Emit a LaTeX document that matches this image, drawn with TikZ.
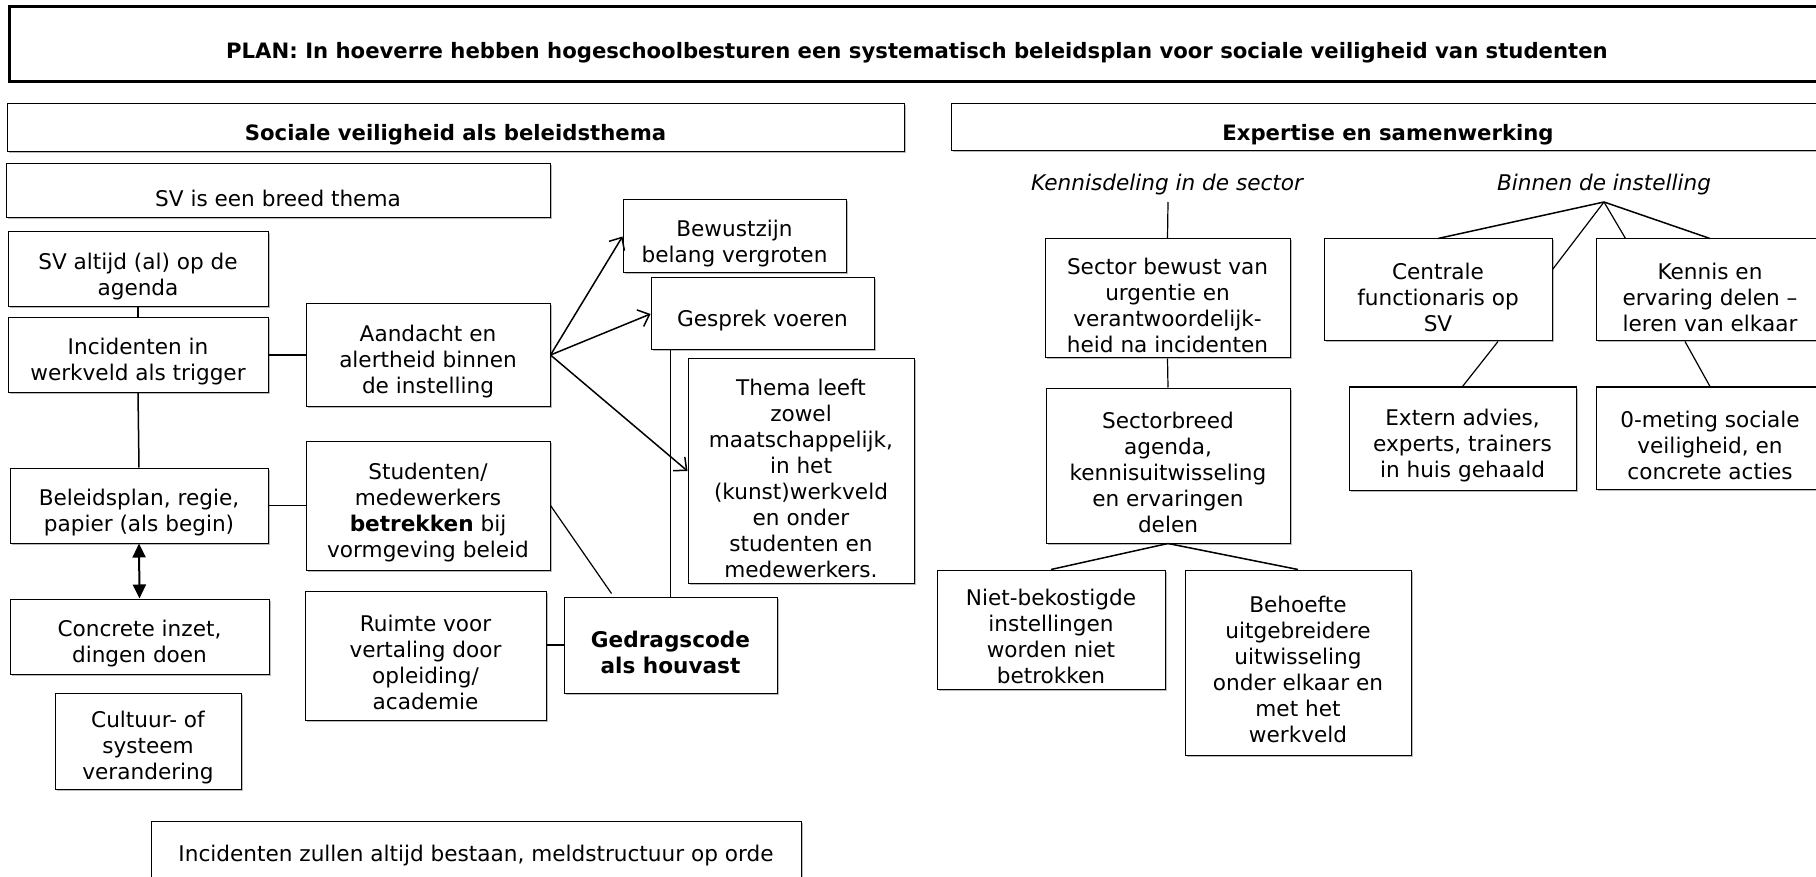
\documentclass[tikz,border=0pt]{standalone}
\usepackage{fontspec}
\setmainfont{DejaVu Sans}
\usetikzlibrary{arrows.meta,calc,shadows}
% framed box placed by its corners, with its text set a little below centre:
% [text options]{name}{x1}{y1}{x2}{y2}{text}
\newcommand\cornerbox[7][]{%
  \node[box,minimum width={(#5)-(#3)},minimum height={(#6)-(#4)}]
    (#2) at ({((#3)+(#5))/2},{((#4)+(#6))/2}) {};
  \node[boxtext,#1] (#2-text) at ([yshift=-7pt]#2.center) {#7};}
\begin{document}
\begin{tikzpicture}[x=1pt,y=-1pt,
  box/.style={draw=black, line width=1pt, fill=white, inner sep=0pt,
    drop shadow={shadow xshift=1.5pt, shadow yshift=-1.5pt, fill=black!45, opacity=0.6}},
  boxtext/.style={align=center, inner sep=0pt, font=\fontsize{21.6}{26}\selectfont},
  headtext/.style={font=\fontsize{21.2}{26}\selectfont\bfseries},
  conn/.style={line width=1.5pt, draw=black},
  thin/.style={line width=1.2pt, draw=black},
  openarrow/.style={conn, -{Straight Barb[length=10pt,width=18pt,line width=1.5pt]}},
  dblarrow/.style={line width=2pt, {Triangle[length=14pt,width=13pt]}-{Triangle[length=14pt,width=13pt]}},
  label/.style={font=\fontsize{21.6}{26}\selectfont\itshape, inner sep=0pt}]

\clip (0,0) rectangle (1816,877);
\fill[white] (0,0) rectangle (1816,877);

% title bar
\node[draw=black, line width=3pt, minimum width=1821, minimum height=75, inner sep=0pt]
  (titlebox) at (919.5,44.5) {};
\node[font=\fontsize{21.2}{26}\selectfont\bfseries, inner sep=0pt] (titletext) at (917,53)
  {PLAN: In hoeverre hebben hogeschoolbesturen een systematisch beleidsplan voor sociale veiligheid van studenten};

% section headers
\cornerbox[headtext]{headleft}{7}{104}{904}{152}{Sociale veiligheid als beleidsthema}
\cornerbox[headtext]{headright}{951}{104}{1825}{151}{Expertise en samenwerking}

% left part: policy theme
\cornerbox{breed}{6}{164}{550}{218}{SV is een breed thema}
\cornerbox{altijd}{8}{232}{268}{307}{SV altijd (al) op de\\agenda}
\cornerbox{trigger}{8}{318}{268}{392}{Incidenten in\\werkveld als trigger}
\cornerbox{aandacht}{306}{304}{550}{406}{Aandacht en\\alertheid binnen\\de instelling}
\cornerbox{bewust}{623}{200}{846}{273}{Bewustzijn\\belang vergroten}
\cornerbox{gesprek}{651}{278}{874}{350}{Gesprek voeren}
\cornerbox{thema}{688}{359}{914}{583}{Thema leeft\\zowel\\maatschappelijk,\\in het\\(kunst)werkveld\\en onder\\studenten en\\medewerkers.}
\cornerbox{beleid}{10}{468}{268}{543}{Beleidsplan, regie,\\papier (als begin)}
\cornerbox{betrekken}{306}{441}{550}{570}{Studenten/\\medewerkers\\\textbf{betrekken} bij\\vormgeving beleid}
\cornerbox{concreet}{10}{599}{269}{674}{Concrete inzet,\\dingen doen}
\cornerbox{cultuur}{55}{693}{241}{789}{Cultuur- of\\systeem\\verandering}
\cornerbox{ruimte}{305}{591}{546}{720}{Ruimte voor\\vertaling door\\opleiding/\\academie}
\cornerbox{gedrag}{564}{597}{777}{693}{\textbf{Gedragscode}\\\textbf{als houvast}}
\node[box, minimum width=650, minimum height=79] (meld) at (476,860.5) {};
\node[boxtext] (meld-text) at (476,856) {Incidenten zullen altijd bestaan, meldstructuur op orde};

% right part: expertise
\node[label] (sectorlabel) at (1167,185) {Kennisdeling in de sector};
\node[label] (binnenlabel) at (1604,185) {Binnen de instelling};
\coordinate (sectorfoot) at (1168,202);
\coordinate (binnenfoot) at (1604,202);
\cornerbox{sector}{1045}{239}{1290}{358}{Sector bewust van\\urgentie en\\verantwoordelijk-\\heid na incidenten}
\cornerbox{sectorbreed}{1046}{388}{1290}{543}{Sectorbreed\\agenda,\\kennisuitwisseling\\en ervaringen\\delen}
\cornerbox{nietbek}{937}{570}{1165}{689}{Niet-bekostigde\\instellingen\\worden niet\\betrokken}
\cornerbox{behoefte}{1185}{570}{1411}{755}{Behoefte\\uitgebreidere\\uitwisseling\\onder elkaar en\\met het\\werkveld}
\cornerbox{centrale}{1324}{239}{1552}{341}{Centrale\\functionaris op\\SV}
\cornerbox{kennis}{1596}{239}{1824}{341}{Kennis en\\ervaring delen –\\leren van elkaar}
\cornerbox{extern}{1349}{387}{1576}{490}{Extern advies,\\experts, trainers\\in huis gehaald}
\cornerbox{nulmeting}{1596}{387}{1824}{489}{0-meting sociale\\veiligheid, en\\concrete acties}

% connectors, left part
\draw[conn] (altijd.south) -- (trigger.north);
\draw[conn] (trigger.east) -- (aandacht.west);
\draw[conn] (trigger.south) -- (beleid.north);
\draw[openarrow] (aandacht.east) -- (bewust.west);
\draw[openarrow] (aandacht.east) -- (gesprek.west);
\draw[openarrow] (aandacht.east) -- (thema.west);
\draw[conn] (beleid.east) -- (betrekken.west);
\draw[dblarrow] (beleid.south) -- (concreet.north);
\draw[thin] (betrekken.east) -- ([xshift=48pt,yshift=3pt]gedrag.north west);
\draw[conn] (gedrag.north |- gesprek.south) -- (gedrag.north);
\draw[conn] (ruimte.east |- gedrag.west) -- (gedrag.west);

% connectors, right part
\draw[thin] (sectorfoot) -- (sector.north);
\draw[thin] (sector.south) -- (sectorbreed.north);
\draw[conn] (sectorbreed.south) -- (nietbek.north);
\draw[conn] (sectorbreed.south) -- (behoefte.north);
\draw[conn] (binnenfoot) -- (centrale.north);
\draw[thin] (binnenfoot) -- ([yshift=-31pt]centrale.north east);
\draw[thin] (binnenfoot) -- ([xshift=30pt]kennis.north west);
\draw[conn] (binnenfoot) -- (kennis.north);
\draw[thin] ([xshift=60pt]centrale.south) -- (extern.north);
\draw[thin] ([xshift=-25pt]kennis.south) -- (nulmeting.north);
\end{tikzpicture}
\end{document}
